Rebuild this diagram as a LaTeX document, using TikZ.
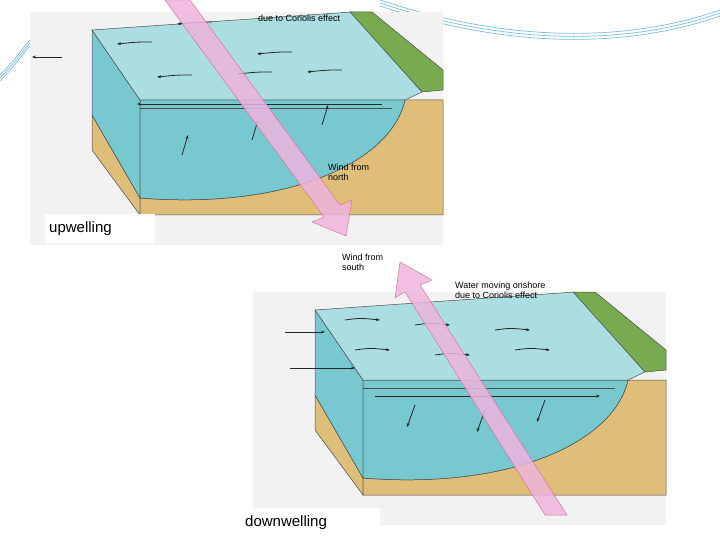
\documentclass[tikz,border=0pt]{standalone}
\usepackage{fontspec}
\setmainfont{Liberation Sans}
\usetikzlibrary{arrows.meta}
\definecolor{water}{RGB}{170,222,226}
\definecolor{waterf}{RGB}{120,200,208}
\definecolor{sand}{RGB}{222,190,120}
\definecolor{land}{RGB}{120,170,80}
\definecolor{pinkar}{RGB}{238,180,222}
\definecolor{swoosh}{RGB}{120,190,225}
\tikzset{
 face/.style={draw=black!70,line width=0.5pt},
 cur/.style={-{Stealth[length=4pt]},line width=0.8pt,black!85},
 lab/.style={font=\fontsize{9}{10}\selectfont,align=left,anchor=north west,inner sep=0pt},
 big/.style={font=\fontsize{15}{17}\selectfont,inner sep=2pt},
 windar/.style={draw=purple!60,fill=pinkar,opacity=0.85,line width=0.5pt}
}
\newcommand{\blockdiag}{%
 \fill[black!5] (-62,-18) rectangle (351,215);
 % sand
 \fill[sand,face] (0,85) -- (48,168) -- (48,185) -- (0,120) -- cycle;
 \fill[sand,face] (48,168) .. controls (200,180) and (300,130) .. (313,70) -- (351,70) -- (351,185) -- (48,185) -- cycle;
 % left face
 \fill[waterf,face] (0,0) -- (48,70) -- (48,168) -- (0,85) -- cycle;
 % front face
 \fill[waterf,face] (48,70) -- (313,70) .. controls (300,130) and (200,180) .. (48,168) -- cycle;
 % top face
 \fill[water,face] (0,0) -- (260,-18) -- (330,62) -- (313,70) -- (48,70) -- cycle;
 \draw[black!70] (48,78) -- (300,78);
 % land
 \fill[land,face] (258,-18) -- (280,-18) -- (351,40) -- (351,60) -- (330,62) -- cycle;
}
\begin{document}
\begin{tikzpicture}[x=1pt,y=-1pt]
\useasboundingbox (0,0) rectangle (720,540);
\fill[white] (0,0) rectangle (720,540);
% swooshes
\foreach \d in {0,3,6}{
 \draw[swoosh,line width=0.7pt] (380,\d) .. controls (500,{40+\d}) and (620,{45+\d}) .. (720,{10+\d});
 \draw[swoosh,line width=0.7pt] (0,{75+\d}) .. controls (15,{60+\d}) and (25,{45+\d}) .. (30,{40+\d});
}
% ---------- upwelling ----------
\begin{scope}[shift={(92,30)}]
 \blockdiag
 \foreach \x/\y in {120/-8,60/12,200/22,180/42,100/45,250/40}{
  \draw[cur] (\x,\y) .. controls (\x-15,\y) .. (\x-35,\y+2);}
 \draw[cur] (-30,27) -- (-60,27);
 \draw[cur] (290,74) -- (45,74);
 \foreach \x/\y in {90/125,160/110,230/95}{
  \draw[cur] (\x,\y) -- (\x+6,\y-20);}
\end{scope}
\fill[white] (45,214) rectangle (155,243);
\node[big,anchor=west] (up) at (47,229) {upwelling};
\node[lab] (t1) at (258,15) {due to Coriolis effect};
\node[lab] (t2) at (328,164) {Wind from\\north};
\draw[windar] (165,0) -- (190,0) -- (340,205) -- (352,200) -- (346,236) -- (312,222) -- (324,217) -- cycle;
% ---------- downwelling ----------
\begin{scope}[shift={(315,310)}]
 \blockdiag
 \foreach \x/\y in {30/10,100/15,180/20,40/40,120/45,200/40}{
  \draw[cur] (\x,\y) .. controls (\x+15,\y-2) .. (\x+35,\y);}
 \draw[cur] (-30,22) -- (10,22);
 \draw[cur] (-25,58) -- (40,58);
 \draw[cur] (60,86) -- (285,86);
 \foreach \x/\y in {100/95,170/100,230/90}{
  \draw[cur] (\x,\y) -- (\x-8,\y+22);}
\end{scope}
\fill[white] (240,508) rectangle (380,540);
\node[big,anchor=west] (down) at (243,523) {downwelling};
\node[lab] (t3) at (342,254) {Wind from\\south};
\node[lab] (t4) at (455,282) {Water moving onshore\\due to Coriolis effect};
\draw[windar] (567,515) -- (545,515) -- (405,292) -- (395,298) -- (400,262) -- (432,280) -- (420,285) -- cycle;
\end{tikzpicture}
\end{document}
